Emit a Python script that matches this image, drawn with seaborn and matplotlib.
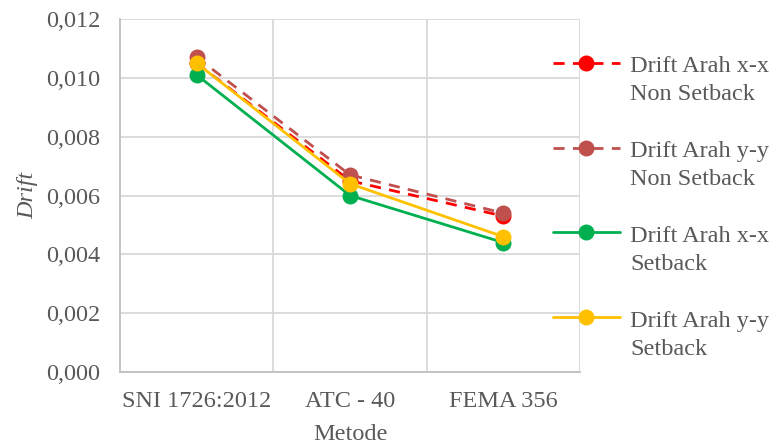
import numpy as np
import pandas as pd
import matplotlib
matplotlib.use("Agg")
import matplotlib.pyplot as plt
from matplotlib.ticker import FuncFormatter, FixedLocator
from matplotlib.legend_handler import HandlerLine2D
import seaborn as sns

categories = ["SNI 1726:2012", "ATC - 40", "FEMA 356"]
series_names = ["Drift Arah x-x\nNon Setback", "Drift Arah y-y\nNon Setback",
                "Drift Arah x-x\nSetback", "Drift Arah y-y\nSetback"]
x_nonsetback = [0.0105, 0.0065, 0.0053]
y_nonsetback = [0.0107, 0.0067, 0.0054]
x_setback = [0.0101, 0.0060, 0.0044]
y_setback = [0.0105, 0.0064, 0.0046]
colors = ["#FF0000", "#C0504D", "#00B050", "#FFC000"]
yticks = [0.0, 0.002, 0.004, 0.006, 0.008, 0.010, 0.012]

values = [x_nonsetback, y_nonsetback, x_setback, y_setback]
rows = []
for name, vals in zip(series_names, values):
    for i, v in enumerate(vals):
        rows.append({"pos": i, "drift": v, "series": name})
df = pd.DataFrame(rows)

sns.set_style("white")
plt.rcParams["font.family"] = ["Liberation Serif", "DejaVu Serif"]
txt = "#595959"
fs = 17.5

fig = plt.figure(figsize=(7.71, 4.45), dpi=100)
ax = fig.add_axes([120/771, 1-372/445, 460/771, 353/445])

sns.lineplot(data=df, x="pos", y="drift", hue="series", style="series",
             palette=dict(zip(series_names, colors)),
             dashes={series_names[0]: (4, 3), series_names[1]: (4, 3),
                     series_names[2]: "", series_names[3]: ""},
             markers={n: "o" for n in series_names},
             markersize=11.5, markeredgewidth=0, linewidth=2.0,
             legend=False, sort=False, ax=ax)

ax.set_xlim(-0.5, 2.5)
ax.set_ylim(0, 0.012)
ax.set_xticks(range(len(categories)))
ax.set_xticklabels(categories)
ax.xaxis.set_minor_locator(FixedLocator([0.5, 1.5, 2.5]))
ax.set_yticks(yticks)
ax.yaxis.set_major_formatter(FuncFormatter(lambda v, p: f"{v:.3f}".replace(".", ",")))
ax.tick_params(axis="both", which="both", length=0, labelsize=fs, colors=txt)
ax.tick_params(axis="y", pad=14)
ax.tick_params(axis="x", pad=14)
ax.grid(axis="y", which="major", color="#D9D9D9", linewidth=1.3)
ax.grid(axis="x", which="minor", color="#D9D9D9", linewidth=1.3)
ax.grid(axis="x", which="major", visible=False)
ax.set_axisbelow(True)
for s in ["top", "right"]:
    ax.spines[s].set_visible(False)
for s in ["left", "bottom"]:
    ax.spines[s].set_color("#BFBFBF")
    ax.spines[s].set_linewidth(1.3)

ax.set_xlabel("Metode", fontsize=fs, color=txt, labelpad=8)
ax.set_ylabel("Drift", fontsize=fs, color=txt, style="italic", labelpad=6)


class UpHandler(HandlerLine2D):
    def create_artists(self, legend, orig_handle, xdescent, ydescent, width,
                       height, fontsize, trans):
        arts = super().create_artists(legend, orig_handle, xdescent, ydescent,
                                      width, height, fontsize, trans)
        for a in arts:
            a.set_ydata(np.asarray(a.get_ydata(), dtype=float) + fontsize * 0.72)
        return arts


handles = ax.get_lines()[:4]
leg = fig.legend(handles, series_names, loc="upper left",
                 bbox_to_anchor=(553/771, 1-56/445), frameon=False, fontsize=fs,
                 labelcolor=txt, borderpad=0, borderaxespad=0,
                 handlelength=2.75, handletextpad=0.42,
                 labelspacing=1.47, handler_map={h: UpHandler() for h in handles})
for t in leg.get_texts():
    t.set_linespacing(1.45)

fig.savefig("out.png", dpi=100)
